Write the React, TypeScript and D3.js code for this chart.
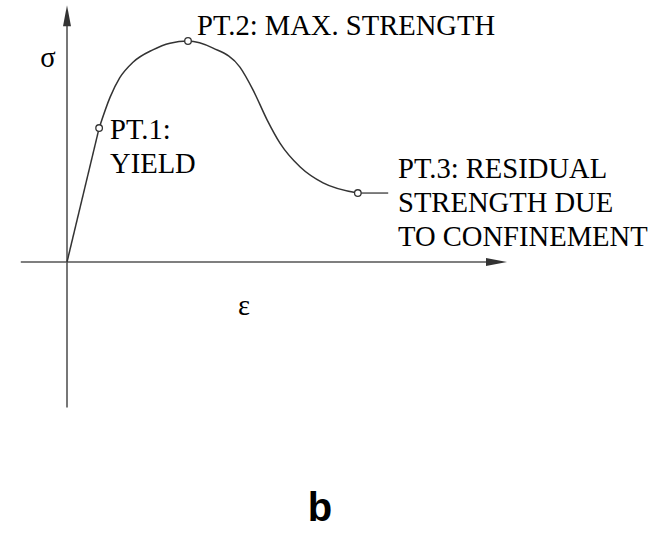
import React from 'react';
import * as d3 from 'd3';

// strain / stress (arbitrary units)
const risingStrain = [0, 0.73];
const risingStress = [0, 3.03];
const curveStrain = [0.73, 0.98, 1.2, 1.5, 1.95, 2.34, 2.75, 3.32, 3.93, 4.23, 4.55, 4.84, 5.3, 5.82, 6.61];
const curveStress = [3.03, 3.73, 4.17, 4.52, 4.8, 4.95, 5.0, 4.84, 4.41, 3.89, 3.21, 2.69, 2.15, 1.79, 1.56];
const residualStrain = [6.61, 7.3];
const residualStress = [1.56, 1.56];

const markerLabels = ['PT.1', 'PT.2', 'PT.3'];
const markerStrain = [0.73, 2.75, 6.61];
const markerStress = [3.03, 5.0, 1.56];

const axisStrainExtent = [-1.05, 10];
const axisStressExtent = [-3.29, 5.81];

const width = 664;
const height = 533;

const App: React.FC = () => {
    const x = d3.scaleLinear().domain([0, 10]).range([67, 507]);
    const y = d3.scaleLinear().domain([0, 5]).range([262, 41]);

    const zip = (xs: number[], ys: number[]) => xs.map((v, i) => [v, ys[i]] as [number, number]);

    const straight = d3.line<[number, number]>()
        .x(d => x(d[0]))
        .y(d => y(d[1]));
    const smooth = d3.line<[number, number]>()
        .x(d => x(d[0]))
        .y(d => y(d[1]))
        .curve(d3.curveMonotoneX);

    const x0 = x(axisStrainExtent[0]);
    const x1 = x(axisStrainExtent[1]);
    const yTop = y(axisStressExtent[1]);
    const yBot = y(axisStressExtent[0]);
    const ox = x(0);
    const oy = y(0);

    const serif = '"Liberation Serif", "Times New Roman", serif';
    const fs = 28.6;

    return (
        <svg width={width} height={height} style={{ position: 'absolute', left: 0, top: 0, background: '#fff' }}>
            {/* axes */}
            <g stroke="#555" strokeWidth={1.6}>
                <line x1={x0} y1={oy} x2={x1 - 18} y2={oy} />
                <line x1={ox} y1={yBot} x2={ox} y2={yTop + 18} />
            </g>
            <path d={`M${x1},${oy} L${x1 - 21},${oy - 4} L${x1 - 21},${oy + 4} Z`} fill="#333" />
            <path d={`M${ox},${yTop} L${ox - 4},${yTop + 21} L${ox + 4},${yTop + 21} Z`} fill="#333" />

            {/* stress-strain curve */}
            <g fill="none" stroke="#333" strokeWidth={1.5}>
                <path d={straight(zip(risingStrain, risingStress)) || ''} />
                <path d={smooth(zip(curveStrain, curveStress)) || ''} />
                <path d={straight(zip(residualStrain, residualStress)) || ''} stroke="#555" />
            </g>
            {markerLabels.map((k, i) => (
                <circle key={k} cx={x(markerStrain[i])} cy={y(markerStress[i])} r={3.3}
                    fill="#fff" stroke="#333" strokeWidth={1.3} />
            ))}

            <g fontFamily={serif} fontSize={fs} fill="#000">
                <text x={48} y={67} textAnchor="middle">σ</text>
                <text x={244} y={315} textAnchor="middle">ε</text>
                <text x={110} y={139}>PT.1:</text>
                <text x={110} y={173}>YIELD</text>
                <text x={197} y={35}>PT.2: MAX. STRENGTH</text>
                <text x={398} y={178}>PT.3: RESIDUAL</text>
                <text x={398} y={212}>STRENGTH DUE</text>
                <text x={398} y={246}>TO CONFINEMENT</text>
            </g>

            <text x={320} y={521} textAnchor="middle" fontFamily='"Liberation Sans", Arial, sans-serif'
                fontWeight="bold" fontSize={40} fill="#000">b</text>
        </svg>
    );
};

export default App;
